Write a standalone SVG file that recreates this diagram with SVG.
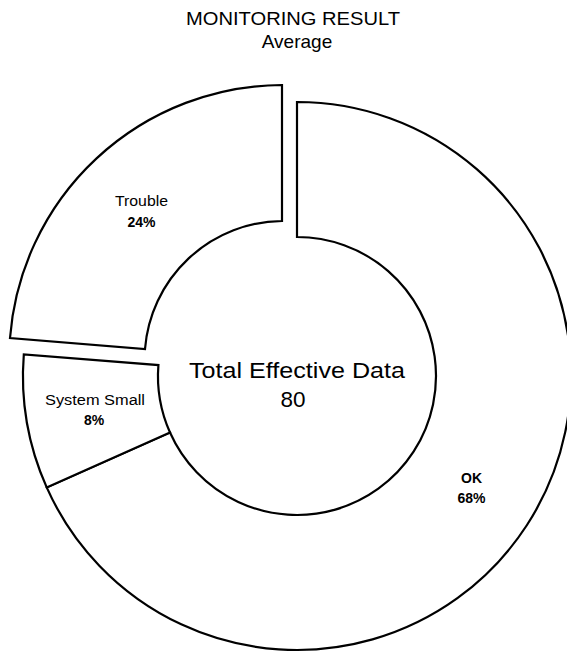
<svg xmlns="http://www.w3.org/2000/svg" width="567" height="654" viewBox="0 0 567 654">
<style>
.slice{fill:#fff;stroke:#000;stroke-width:2.2;stroke-linejoin:miter}
text{font-family:"Liberation Sans",Arial,sans-serif;fill:#000;text-anchor:middle}
.title{font-size:19px}
.lbl{font-size:14px;font-weight:bold}
.name{font-size:14px}
.center{font-size:22.5px}
</style>
<rect width="567" height="654" fill="#fff"/>
<g id="title">
<text class="title" x="293" y="25" textLength="214" lengthAdjust="spacingAndGlyphs">MONITORING RESULT</text>
<text class="title" x="297" y="48">Average</text>
</g>
<g id="slice-ok">
<path class="slice" d="M 297 102 A 274 274 0 1 1 46.7 487.4 L 170 432.5 A 139 139 0 1 0 297 237 Z"/>
<text class="lbl" x="471.5" y="483">OK</text>
<text class="lbl" x="471.5" y="503">68%</text>
</g>
<g id="slice-system-small">
<path class="slice" d="M 46.7 487.4 A 274 274 0 0 1 23.8 354.5 L 158.4 365.1 A 139 139 0 0 0 170 432.5 Z"/>
<text class="name" x="95" y="405" textLength="100" lengthAdjust="spacingAndGlyphs">System Small</text>
<text class="lbl" x="94" y="425">8%</text>
</g>
<g id="slice-trouble">
<path class="slice" d="M 10 338 A 274 274 0 0 1 282 85 L 282 221 A 139 139 0 0 0 145 349 Z"/>
<text class="name" x="141.5" y="206" textLength="53" lengthAdjust="spacingAndGlyphs">Trouble</text>
<text class="lbl" x="141.5" y="227">24%</text>
</g>
<g id="center-label">
<text class="center" x="297" y="378" textLength="216" lengthAdjust="spacingAndGlyphs">Total Effective Data</text>
<text class="center" x="293" y="407">80</text>
</g>
<g id="connectors"></g>
</svg>
